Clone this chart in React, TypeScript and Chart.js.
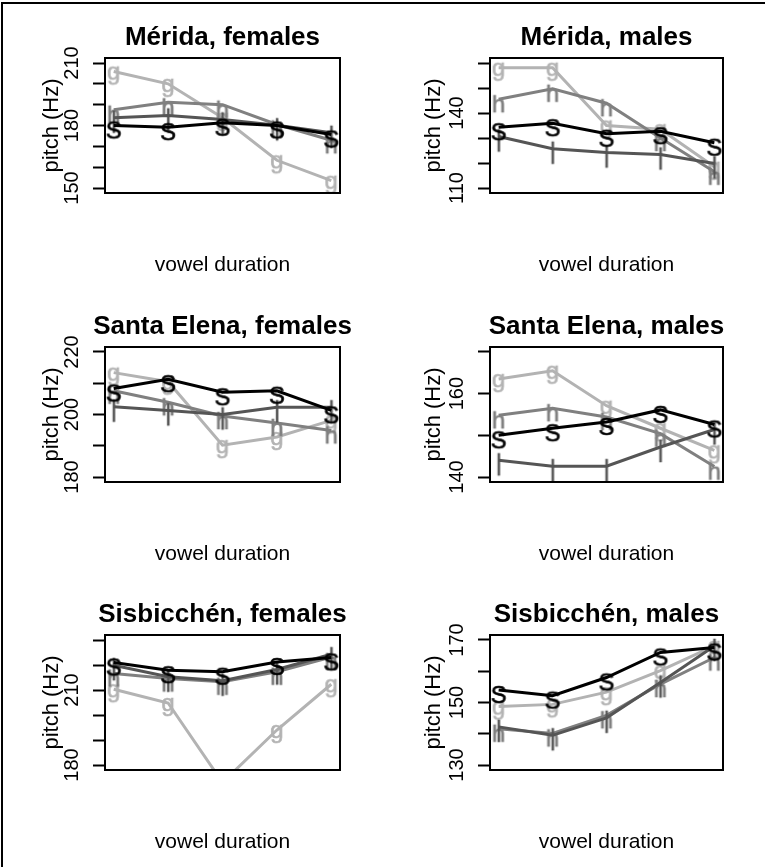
import React, { useEffect, useRef } from 'react';
import { Chart, registerables } from 'chart.js';

Chart.register(...registerables);

// ---- data ----
const durationSteps = [1, 2, 3, 4, 5];
const seriesLetters = ['S', '|', 'h', 'g'];
const seriesColors = ['#000000', '#555555', '#808080', '#b3b3b3'];

const panelTitles = [
  'Mérida, females',
  'Mérida, males',
  'Santa Elena, females',
  'Santa Elena, males',
  'Sisbicchén, females',
  'Sisbicchén, males',
];

// Mérida, females
const meridaFemalesS = [180, 179.2, 181.3, 180, 175.7];
const meridaFemalesBar = [183.7, 184.8, 182.9, 180.1, 176.5];
const meridaFemalesH = [187.6, 191.1, 190, 180.5, 172.9];
const meridaFemalesG = [205.9, 200, 183.7, 163.3, 153.5];
const meridaFemalesYlim = [150, 210];
const meridaFemalesLabels = [150, 180, 210];

// Mérida, males
const meridaMalesS = [134.3, 135.9, 131.7, 132.7, 128.1];
const meridaMalesBar = [130.6, 125.7, 124.2, 123.4, 119.8];
const meridaMalesH = [145.5, 149.7, 143.9, 130, 116.5];
const meridaMalesG = [158.1, 158.1, 135, 133.5, 118.5];
const meridaMalesYlim = [110, 160];
const meridaMalesLabels = [110, 140];

// Santa Elena, females
const santaElenaFemalesS = [208.3, 211.3, 207.1, 207.6, 201.3];
const santaElenaFemalesBar = [202.5, 201.3, 200, 202.3, 202.3];
const santaElenaFemalesH = [207.6, 203.9, 199.5, 197.3, 194.9];
const santaElenaFemalesG = [213.4, 210.5, 190.2, 192.8, 198.1];
const santaElenaFemalesYlim = [180, 220];
const santaElenaFemalesLabels = [180, 200, 220];

// Santa Elena, males
const santaElenaMalesS = [150, 151.7, 153.2, 156.1, 152.6];
const santaElenaMalesBar = [144, 142.6, 142.6, 147.2, 151.4];
const santaElenaMalesH = [154.8, 156.5, 154.4, 150.4, 142.5];
const santaElenaMalesG = [163.5, 165.5, 157.1, 151.7, 146.4];
const santaElenaMalesYlim = [140, 170];
const santaElenaMalesLabels = [140, 160];

// Sisbicchén, females
const sisbicchenFemalesS = [221, 217.9, 217.3, 221.2, 223];
const sisbicchenFemalesBar = [219.9, 215.3, 213.7, 218.2, 224.3];
const sisbicchenFemalesH = [216.6, 214.6, 213.3, 217.3, 223.2];
const sisbicchenFemalesG = [210.3, 204.8, 173, 194, 212.3];
const sisbicchenFemalesYlim = [180, 230];
const sisbicchenFemalesLabels = [180, 210];

// Sisbicchén, males
const sisbicchenMalesS = [154, 152.2, 158, 166, 167.6];
const sisbicchenMalesBar = [142.2, 139.5, 145.1, 156.4, 168.1];
const sisbicchenMalesH = [141.6, 140.1, 145.9, 155.9, 164.4];
const sisbicchenMalesG = [148.7, 149.4, 153.3, 160.2, 168.1];
const sisbicchenMalesYlim = [130, 170];
const sisbicchenMalesLabels = [130, 150, 170];

const panelSeries = [
  [meridaFemalesS, meridaFemalesBar, meridaFemalesH, meridaFemalesG],
  [meridaMalesS, meridaMalesBar, meridaMalesH, meridaMalesG],
  [santaElenaFemalesS, santaElenaFemalesBar, santaElenaFemalesH, santaElenaFemalesG],
  [santaElenaMalesS, santaElenaMalesBar, santaElenaMalesH, santaElenaMalesG],
  [sisbicchenFemalesS, sisbicchenFemalesBar, sisbicchenFemalesH, sisbicchenFemalesG],
  [sisbicchenMalesS, sisbicchenMalesBar, sisbicchenMalesH, sisbicchenMalesG],
];
const panelYlims = [
  meridaFemalesYlim, meridaMalesYlim, santaElenaFemalesYlim,
  santaElenaMalesYlim, sisbicchenFemalesYlim, sisbicchenMalesYlim,
];
const panelLabels = [
  meridaFemalesLabels, meridaMalesLabels, santaElenaFemalesLabels,
  santaElenaMalesLabels, sisbicchenFemalesLabels, sisbicchenMalesLabels,
];
const yTickStep = 10;
const xLabel = 'vowel duration';
const yLabel = 'pitch (Hz)';

// ---- layout / style ----
const FONT = '"Liberation Sans", Arial, Helvetica, sans-serif';
const MARKER_SIZE = 24;
const CELL_H = 289;
const ROW_TOPS = [0, 289, 577];
const COLS = [
  { left: 0, width: 445, axisW: 105, plotW: 235 },
  { left: 382, width: 449, axisW: 108, plotW: 233 },
];

function makeGlyph(letter: string, color: string): HTMLCanvasElement {
  const size = 54;
  const c = document.createElement('canvas');
  c.width = size;
  c.height = size;
  const ctx = c.getContext('2d')!;
  ctx.font = `${MARKER_SIZE}px ${FONT}`;
  ctx.fillStyle = color;
  ctx.strokeStyle = color;
  ctx.lineWidth = 0.6;
  ctx.textAlign = 'center';
  ctx.textBaseline = 'alphabetic';
  const m = ctx.measureText(letter);
  const asc = m.actualBoundingBoxAscent;
  const desc = m.actualBoundingBoxDescent;
  const baseline = size / 2 + (asc - desc) / 2 + 4;
  ctx.fillText(letter, size / 2, baseline);
  ctx.strokeText(letter, size / 2, baseline);
  return c;
}

const boxPlugin = {
  id: 'panelBox',
  afterDraw(chart: any) {
    const { ctx, chartArea: a } = chart;
    ctx.save();
    ctx.strokeStyle = '#000';
    ctx.lineWidth = 2;
    ctx.strokeRect(a.left, a.top, a.right - a.left, a.bottom - a.top);
    ctx.restore();
  },
};

function Panel({ index }: { index: number }) {
  const ref = useRef<HTMLCanvasElement>(null);
  const col = COLS[index % 2];
  const top = ROW_TOPS[Math.floor(index / 2)];

  useEffect(() => {
    if (!ref.current) return;
    const glyphs = seriesLetters.map((l, i) => makeGlyph(l, seriesColors[i]));
    const [lo, hi] = panelYlims[index];
    const ext = (hi - lo) * 0.04;
    const xExt = (durationSteps[durationSteps.length - 1] - durationSteps[0]) * 0.04;
    const tickVals: number[] = [];
    for (let v = lo; v <= hi + 1e-9; v += yTickStep) tickVals.push(v);
    const labels = panelLabels[index];

    const chart = new Chart(ref.current, {
      type: 'line',
      data: {
        datasets: panelSeries[index].map((vals, i) => ({
          label: seriesLetters[i],
          data: durationSteps.map((x, j) => ({ x, y: vals[j] })),
          borderColor: seriesColors[i],
          backgroundColor: seriesColors[i],
          borderWidth: 3,
          pointStyle: glyphs[i],
          pointRadius: 12,
          pointHoverRadius: 12,
          tension: 0,
          fill: false,
          clip: 0,
        })),
      },
      options: {
        animation: false,
        responsive: false,
        events: [],
        layout: { padding: 0 },
        plugins: {
          legend: { display: false },
          tooltip: { enabled: false },
          title: {
            display: true,
            text: panelTitles[index],
            color: '#000',
            font: { family: FONT, size: 26, weight: 'bold' },
            padding: { top: 21.9, bottom: 4.9 },
          },
        },
        scales: {
          x: {
            type: 'linear',
            min: durationSteps[0] - xExt,
            max: durationSteps[durationSteps.length - 1] + xExt,
            ticks: { display: false },
            grid: { display: false },
            border: { display: false },
            title: {
              display: true,
              text: xLabel,
              color: '#000',
              font: { family: FONT, size: 21 },
              padding: { top: 0, bottom: 11.4 },
            },
            afterFit: (s: any) => { s.height = CELL_H - 193; },
          },
          y: {
            type: 'linear',
            position: 'left',
            min: lo - ext,
            max: hi + ext,
            afterBuildTicks: (s: any) => { s.ticks = tickVals.map((v) => ({ value: v })); },
            ticks: {
              autoSkip: false,
              minRotation: 90,
              maxRotation: 90,
              crossAlign: 'center',
              padding: 4.3,
              color: '#000',
              font: { family: FONT, size: 20 },
              callback: (v: any) => (labels.includes(Number(v)) ? String(v) : ''),
            },
            grid: {
              drawOnChartArea: false,
              drawTicks: true,
              tickLength: 12,
              tickColor: '#000',
              tickWidth: 2,
            },
            border: { display: false },
            title: {
              display: true,
              text: yLabel,
              color: '#000',
              font: { family: FONT, size: 22 },
              padding: { top: 38.8, bottom: 0 },
            },
            afterFit: (s: any) => { s.width = col.axisW; },
          },
          yRight: {
            type: 'linear',
            position: 'right',
            display: true,
            ticks: { display: false },
            grid: { display: false },
            border: { display: false },
            afterFit: (s: any) => { s.width = col.width - col.axisW - col.plotW; },
          },
        },
      },
      plugins: [boxPlugin],
    } as any);
    return () => chart.destroy();
  }, [index]);

  return (
    <canvas
      ref={ref}
      width={col.width}
      height={CELL_H}
      style={{ position: 'absolute', left: col.left, top, width: col.width, height: CELL_H }}
    />
  );
}

export default function App() {
  return (
    <div
      style={{
        position: 'absolute',
        left: 0,
        top: 0,
        width: 765,
        height: 867,
        overflow: 'hidden',
        background: '#fff',
      }}
    >
      <div
        style={{
          position: 'absolute',
          left: 1,
          top: 2,
          width: 800,
          height: 900,
          borderTop: '2px solid #000',
          borderLeft: '2px solid #000',
        }}
      />
      {panelTitles.map((_, i) => (
        <Panel key={i} index={i} />
      ))}
    </div>
  );
}
